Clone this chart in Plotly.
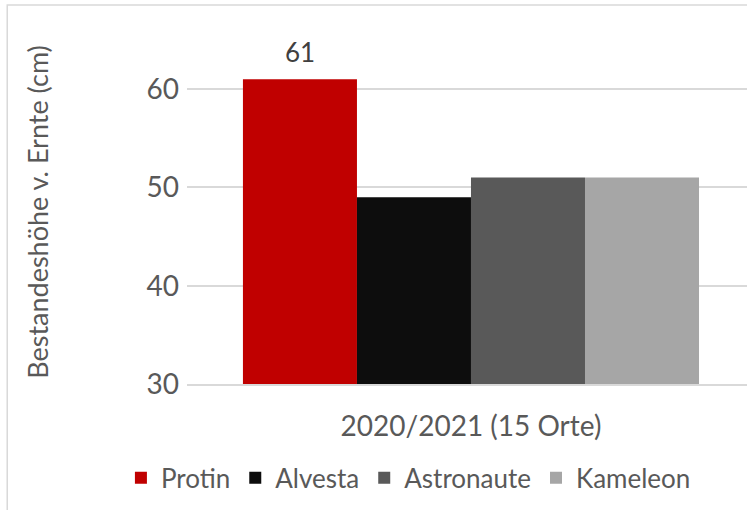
import plotly.graph_objects as go

# Bestandeshöhe vor Ernte, Sortenvergleich
category = ["2020/2021 (15 Orte)"]
sorten = ["Protin", "Alvesta", "Astronaute", "Kameleon"]
hoehe = [61, 49, 51, 51]
colors = ["#C00000", "#0D0D0D", "#595959", "#A6A6A6"]

font = "Lato"
grey = "#595959"
gap = 0.197

fig = go.Figure()
for name, val, col in zip(sorten, hoehe, colors):
    fig.add_trace(go.Bar(x=category, y=[val], name=name, marker_color=col,
                         marker_line_width=0))

# Datenbeschriftung nur für Protin (erster Balken der Gruppe)
bar_w = (1 - gap) / len(sorten)
fig.add_annotation(x=-(1 - gap) / 2 + bar_w / 2, y=hoehe[0], text=str(hoehe[0]),
                   showarrow=False, yanchor="bottom", yshift=9,
                   font=dict(size=26, color="#404040", family=font))

fig.update_layout(
    width=747, height=510,
    barmode="group", bargap=gap, bargroupgap=0,
    plot_bgcolor="white", paper_bgcolor="white",
    margin=dict(l=187, r=0, t=40, b=126, autoexpand=False),
    font=dict(family=font, size=26, color=grey),
    showlegend=True,
    legend=dict(orientation="h", x=-0.118, xanchor="left",
                y=-0.273, yanchor="middle",
                font=dict(size=26, color=grey), traceorder="normal"),
    shapes=[dict(type="rect", xref="paper", yref="paper",
                 x0=-0.321, x1=1.2, y0=-0.6, y1=1.102,
                 line=dict(color="#D9D9D9", width=1.5), layer="below")],
)
fig.update_xaxes(range=[-0.5, 0.486], showline=True, linecolor="#D9D9D9", linewidth=1.5,
                 tickfont=dict(size=28, color=grey), ticklabelstandoff=17, automargin=False)
fig.update_yaxes(range=[30, 65], dtick=10, tick0=30, showgrid=True, gridcolor="#D9D9D9",
                 gridwidth=1.5, zeroline=False, tickfont=dict(size=28, color=grey),
                 ticklabelstandoff=7, automargin=False,
                 title=dict(text="Bestandeshöhe v. Ernte (cm)", standoff=90,
                            font=dict(size=27, color=grey)))

fig.write_html("out.html", config={"displayModeBar": False},
               post_script="document.body.style.margin = '0';")
